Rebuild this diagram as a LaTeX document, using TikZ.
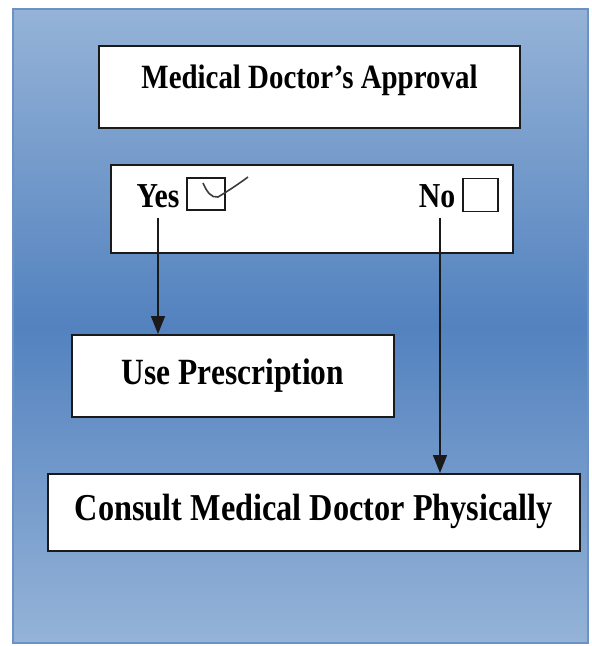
\documentclass[tikz,border=0pt]{standalone}
\usepackage{fontspec}
\setmainfont{Liberation Serif}[FakeStretch=0.85]
\usetikzlibrary{arrows.meta}
\definecolor{bgtop}{HTML}{95B3D7}
\definecolor{bgmid}{HTML}{5382BF}
\definecolor{frame}{HTML}{6C91C7}
\definecolor{ink}{HTML}{1A1A1A}
\begin{document}
\begin{tikzpicture}[x=1pt,y=-1pt,
  box/.style={draw=ink,line width=2pt,fill=white,inner sep=0pt},
  big/.style={font=\bfseries\fontsize{37}{40}\selectfont},
  arr/.style={draw=ink,line width=1.5pt,-{Triangle[length=18pt,width=14pt]}},
  cbox/.style={draw=ink,line width=1.5pt,inner sep=0pt}]
\useasboundingbox (0,0) rectangle (592,646);
\fill[white] (0,0) rectangle (592,646);
\shadedraw[top color=bgtop,bottom color=bgtop,middle color=bgmid,draw=frame,line width=1.5pt] (13,9) rectangle (588,643);
\node[box,minimum width=421pt,minimum height=82pt,font=\bfseries\fontsize{34}{38}\selectfont,text height=24pt,text depth=22pt] (approval) at (309.5,87) {Medical Doctor’s Approval};
\node[box,minimum width=402pt,minimum height=88pt] (choice) at (312,209) {};
\node[inner sep=0pt,anchor=base,font=\bfseries\fontsize{35}{38}\selectfont] (yes) at (158,207) {Yes};
\node[cbox,minimum width=38pt,minimum height=32pt] (yesbox) at (206,194) {};
\draw[line width=1.6pt,ink!85] (203,183) .. controls (207,192) and (211,198) .. (218,197) .. controls (228,191) and (240,183) .. (248,177);
\node[inner sep=0pt,anchor=base,font=\bfseries\fontsize{35}{38}\selectfont] (no) at (437,207) {No};
\node[cbox,minimum width=35pt,minimum height=33pt] (nobox) at (480.5,195) {};
\node[box,big,minimum width=322pt,minimum height=82pt,text height=25pt,text depth=9pt] (use) at (233,376) {Use Prescription};
\node[box,minimum width=532pt,minimum height=77pt,text height=25pt,text depth=10pt,font=\bfseries\fontsize{38}{41}\selectfont] (consult) at (314,512.5) {Consult Medical Doctor Physically};
\draw[arr] ([yshift=-10pt]yes.south) -- (yes.south |- use.north);
\draw[arr] ([xshift=3pt,yshift=-10pt]no.south) -- ([xshift=3pt]no.south |- consult.north);
\end{tikzpicture}
\end{document}
